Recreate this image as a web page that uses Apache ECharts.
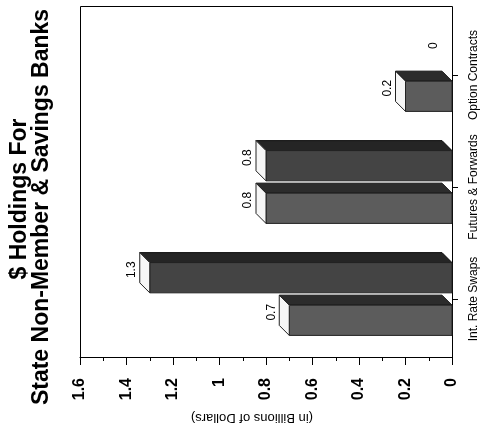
<!DOCTYPE html>
<html>
<head>
<meta charset="utf-8">
<script src="https://cdn.jsdelivr.net/npm/echarts@6/dist/echarts.min.js"></script>
<style>
  html, body { margin: 0; padding: 0; background: #fff; }
  #chart { width: 485px; height: 435px; }
</style>
</head>
<body>
<div id="chart"></div>
<script>
// Holdings by instrument (billions of dollars), two bars per category
var categories = ['Int. Rate Swaps', 'Futures & Forwards', 'Option Contracts'];
var holdingsA = [0.7, 0.8, 0.2];
var holdingsB = [1.3, 0.8, 0];
var valueTicks = { min: 0, max: 1.6, step: 0.2 };
var titleLines = ['$ Holdings For', 'State Non-Member & Savings Banks'];
var valueAxisTitle = '(in Billions of Dollars)';

var FONT = '"Liberation Sans", Arial, sans-serif';
var DEPTH = 10;

// Draws a 3D box bar: front face, top face and the end cap, plus its value label
function boxBar(side, frontFill, topFill) {
  return function (params, api) {
    var v = api.value(0);
    var cat = api.value(1);
    var tip = api.coord([v, cat]);
    var base = api.coord([0, cat]);
    var band = api.size([0, 1])[1];
    var h = band * 0.27;
    var yc = tip[1] + side * band * 0.19;
    var y0 = yc - h / 2, y1 = yc + h / 2;
    var xe = tip[0], xb = base[0];
    var d = DEPTH;
    var kids = [];
    if (xb - xe > 0.5) {
      kids.push({
        type: 'polygon',
        shape: { points: [[xe, y0], [xb, y0], [xb - d, y0 - d], [xe - d, y0 - d]] },
        style: { fill: topFill, stroke: '#111', lineWidth: 1 }
      });
      kids.push({
        type: 'rect',
        shape: { x: xe, y: y0, width: xb - xe, height: h },
        style: { fill: frontFill, stroke: '#222', lineWidth: 1 }
      });
      kids.push({
        type: 'polygon',
        shape: { points: [[xe, y0], [xe, y1], [xe - d, y1 - d], [xe - d, y0 - d]] },
        style: { fill: '#f6f6f6', stroke: '#222', lineWidth: 1 }
      });
    }
    kids.push({
      type: 'text',
      x: xe - d - 8,
      y: yc - 8,
      rotation: Math.PI / 2,
      style: {
        text: String(v),
        fill: '#000',
        font: '12px ' + FONT,
        align: 'center',
        verticalAlign: 'middle'
      }
    });
    return { type: 'group', children: kids };
  };
}

function toPairs(arr) {
  return arr.map(function (v, i) { return [v, i]; });
}

var chart = echarts.init(document.getElementById('chart'), null, { renderer: 'canvas' });

chart.setOption({
  backgroundColor: '#fff',
  animation: false,
  grid: { left: 80, right: 33, top: 19, bottom: 80 },
  xAxis: {
    type: 'value',
    min: valueTicks.min,
    max: valueTicks.max,
    interval: valueTicks.step,
    inverse: true,
    position: 'bottom',
    offset: 2,
    axisLine: { show: true, lineStyle: { color: '#000', width: 1 } },
    axisTick: { show: true, length: 8, lineStyle: { color: '#000' } },
    minorTick: { show: true, splitNumber: 2, length: 4, lineStyle: { color: '#000' } },
    splitLine: { show: false },
    axisLabel: {
      rotate: 90,
      margin: 21,
      color: '#000',
      fontSize: 16,
      fontWeight: 'bold',
      fontFamily: FONT
    }
  },
  yAxis: {
    type: 'category',
    data: categories,
    position: 'right',
    axisLine: { show: true, lineStyle: { color: '#000' } },
    axisTick: { show: true, alignWithLabel: true, length: 6, lineStyle: { color: '#000' } },
    axisLabel: {
      interval: 0,
      rotate: 90,
      margin: 16,
      color: '#000',
      fontSize: 12,
      fontFamily: FONT
    }
  },
  graphic: [
    {
      type: 'rect',
      shape: { x: 80.5, y: 6.5, width: 372, height: 351 },
      style: { fill: 'none', stroke: '#000', lineWidth: 1 },
      silent: true
    },
    {
      type: 'text',
      x: 20, y: 199,
      rotation: Math.PI / 2,
      style: {
        text: titleLines[0],
        fill: '#000',
        font: 'bold 23px ' + FONT,
        align: 'center',
        verticalAlign: 'middle'
      }
    },
    {
      type: 'text',
      x: 42, y: 207,
      rotation: Math.PI / 2,
      style: {
        text: titleLines[1],
        fill: '#000',
        font: 'bold 23px ' + FONT,
        align: 'center',
        verticalAlign: 'middle'
      }
    },
    {
      type: 'text',
      x: 252, y: 418,
      rotation: Math.PI,
      style: {
        text: valueAxisTitle,
        fill: '#000',
        font: '13px ' + FONT,
        align: 'center',
        verticalAlign: 'middle'
      }
    }
  ],
  series: [
    {
      type: 'custom',
      name: 'A',
      encode: { x: 0, y: 1 },
      renderItem: boxBar(1, '#5c5c5c', '#2c2c2c'),
      data: toPairs(holdingsA),
      z: 3
    },
    {
      type: 'custom',
      name: 'B',
      encode: { x: 0, y: 1 },
      renderItem: boxBar(-1, '#444444', '#252525'),
      data: toPairs(holdingsB),
      z: 2
    }
  ]
});
</script>
</body>
</html>
